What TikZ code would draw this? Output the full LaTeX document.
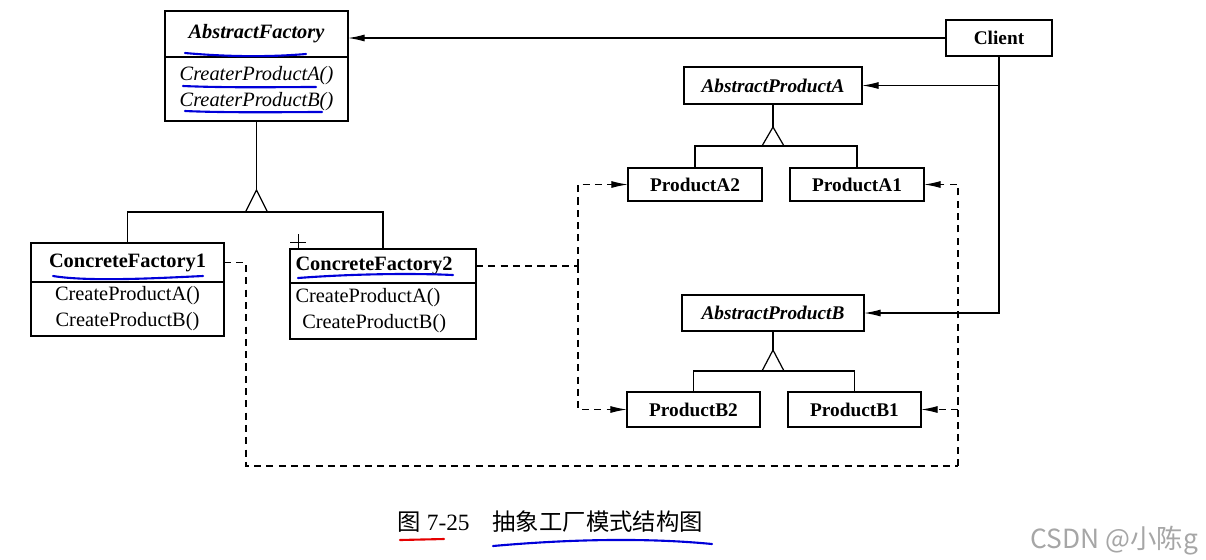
\documentclass[tikz,border=0pt]{standalone}
\usepackage{fontspec}
\setmainfont{Liberation Serif}
\newfontfamily\cjk{Noto Sans CJK SC}
\usetikzlibrary{arrows.meta,calc}

\begin{document}
\begin{tikzpicture}[x=0.02cm,y=-0.02cm,line width=0.7pt,
    box/.style={draw,inner sep=1pt,outer sep=0pt,align=center,
      font=\fontsize{11}{14.7}\selectfont},
    big/.style={font=\fontsize{11.6}{14.7}\selectfont},
    leftbox/.style={text width=3.5cm,inner xsep=0.11cm,align=left},
    arr/.style={-{Latex[length=9.5pt,width=4pt]}},
    dep/.style={dash pattern=on 4pt off 3pt},
    pen/.style={blue!85!black,line width=1.2pt,line cap=round}]
    \useasboundingbox (0,0) rectangle (1206,559);
    % factories
    \node[box,big,minimum width=3.66cm,minimum height=0.92cm] (factory) at (256.5,34) {\textbf{\textit{AbstractFactory}}};
    \node[box,big,minimum width=3.66cm,minimum height=1.28cm,anchor=north] (factoryops) at (factory.south)
      {\textit{CreaterProductA()}\\\textit{CreaterProductB()}};
    \node[box,big,minimum width=3.86cm,minimum height=0.78cm] (concrete1) at (127.5,262.5) {\textbf{ConcreteFactory1}};
    \node[box,big,minimum width=3.86cm,minimum height=1.08cm,anchor=north] (concrete1ops) at (concrete1.south)
      {CreateProductA()\\CreateProductB()};
    \node[box,big,leftbox,minimum height=0.68cm] (concrete2) at (383,266) {\textbf{ConcreteFactory2}};
    \node[box,big,leftbox,minimum height=1.12cm,anchor=north] (concrete2ops) at (concrete2.south)
      {CreateProductA()\\\ CreateProductB()};
    % client and products
    \node[box,minimum width=2.12cm,minimum height=0.72cm] (client) at (999,38) {\textbf{Client}};
    \node[box,minimum width=3.56cm,minimum height=0.74cm] (prodA) at (773,85.5) {\textbf{\textit{AbstractProductA}}};
    \node[box,minimum width=2.68cm,minimum height=0.66cm] (prodA2) at (695,184.5) {\textbf{ProductA2}};
    \node[box,minimum width=2.68cm,minimum height=0.66cm] (prodA1) at (857,184.5) {\textbf{ProductA1}};
    \node[box,minimum width=3.64cm,minimum height=0.72cm] (prodB) at (773,313) {\textbf{\textit{AbstractProductB}}};
    \node[box,minimum width=2.66cm,minimum height=0.70cm] (prodB2) at (693.5,409.5) {\textbf{ProductB2}};
    \node[box,minimum width=2.66cm,minimum height=0.70cm] (prodB1) at (854.5,409.5) {\textbf{ProductB1}};
    % inheritance
    \draw (factoryops.south) -- ++(0,69) coordinate (factorytip);
    \draw (factorytip) -- ++(-11,22) -- ++(22,0) -- cycle;
    \draw (concrete1.north) |- ($(factorytip)+(0,22)$) -| (concrete2.north);
    \draw (prodA.south) -- ++(0,23) coordinate (tipA);
    \draw (tipA) -- ++(-11,19) -- ++(22,0) -- cycle;
    \draw (prodA2.north) |- ($(tipA)+(0,19)$) -| (prodA1.north);
    \draw (prodB.south) -- ++(0,19) coordinate (tipB);
    \draw (tipB) -- ++(-11,21) -- ++(22,0) -- cycle;
    \draw (prodB2.north) |- ($(tipB)+(0,21)$) -| (prodB1.north);
    % associations
    \draw[arr] (client.west) -- (client.west -| factory.east);
    \draw[arr] (client.south) |- (prodA.east);
    \draw[arr] (client.south) |- (prodB.east);
    % dependencies
    \draw[dep] (concrete2.east) -- ++(102,0) coordinate (fork2);
    \draw[dep,arr] (fork2) |- (prodA2.west);
    \draw[dep,arr] (fork2) |- (prodB2.west);
    \draw[dep] (concrete1.east) -- ++(22,0) |- (958,466) coordinate (corner1);
    \draw[dep,arr] (corner1) |- (prodA1.east);
    \draw[dep,arr] (corner1 |- prodB1.east) -- (prodB1.east);
    % pen marks
    \draw[pen] (185,53) .. controls (230,57) and (270,57) .. (306,54);
    \draw[pen] (183,86) .. controls (230,88) and (280,87) .. (316,87);
    \draw[pen] (185,111) .. controls (230,113) and (290,112) .. (322,112);
    \draw[pen] (53,276) .. controls (90,282) and (160,278) .. (203,276);
    \draw[pen] (298,278) .. controls (350,274) and (410,273) .. (453,275);
    \draw[pen,red!90!black] (400,540) -- (444,539);
    \draw[pen] (493,546) .. controls (560,540) and (640,537) .. (712,544);
    \draw[line width=0.5pt] (290,242) -- (306,242) (298,234) -- (298,250);
    % caption
    \node[anchor=west,inner sep=0pt,font=\fontsize{13.3}{16}\selectfont] (fignum) at (397,522) {{\cjk 图} 7-25};
    \node[anchor=west,inner sep=0pt,font=\fontsize{13.3}{16}\selectfont\cjk] (figtitle) at (492,522) {抽象工厂模式结构图};
    \node[anchor=west,inner sep=0pt,font=\fontsize{15}{18}\selectfont\cjk,gray!70] (mark) at (1030,541) {CSDN @小陈g};
\end{tikzpicture}
\end{document}
